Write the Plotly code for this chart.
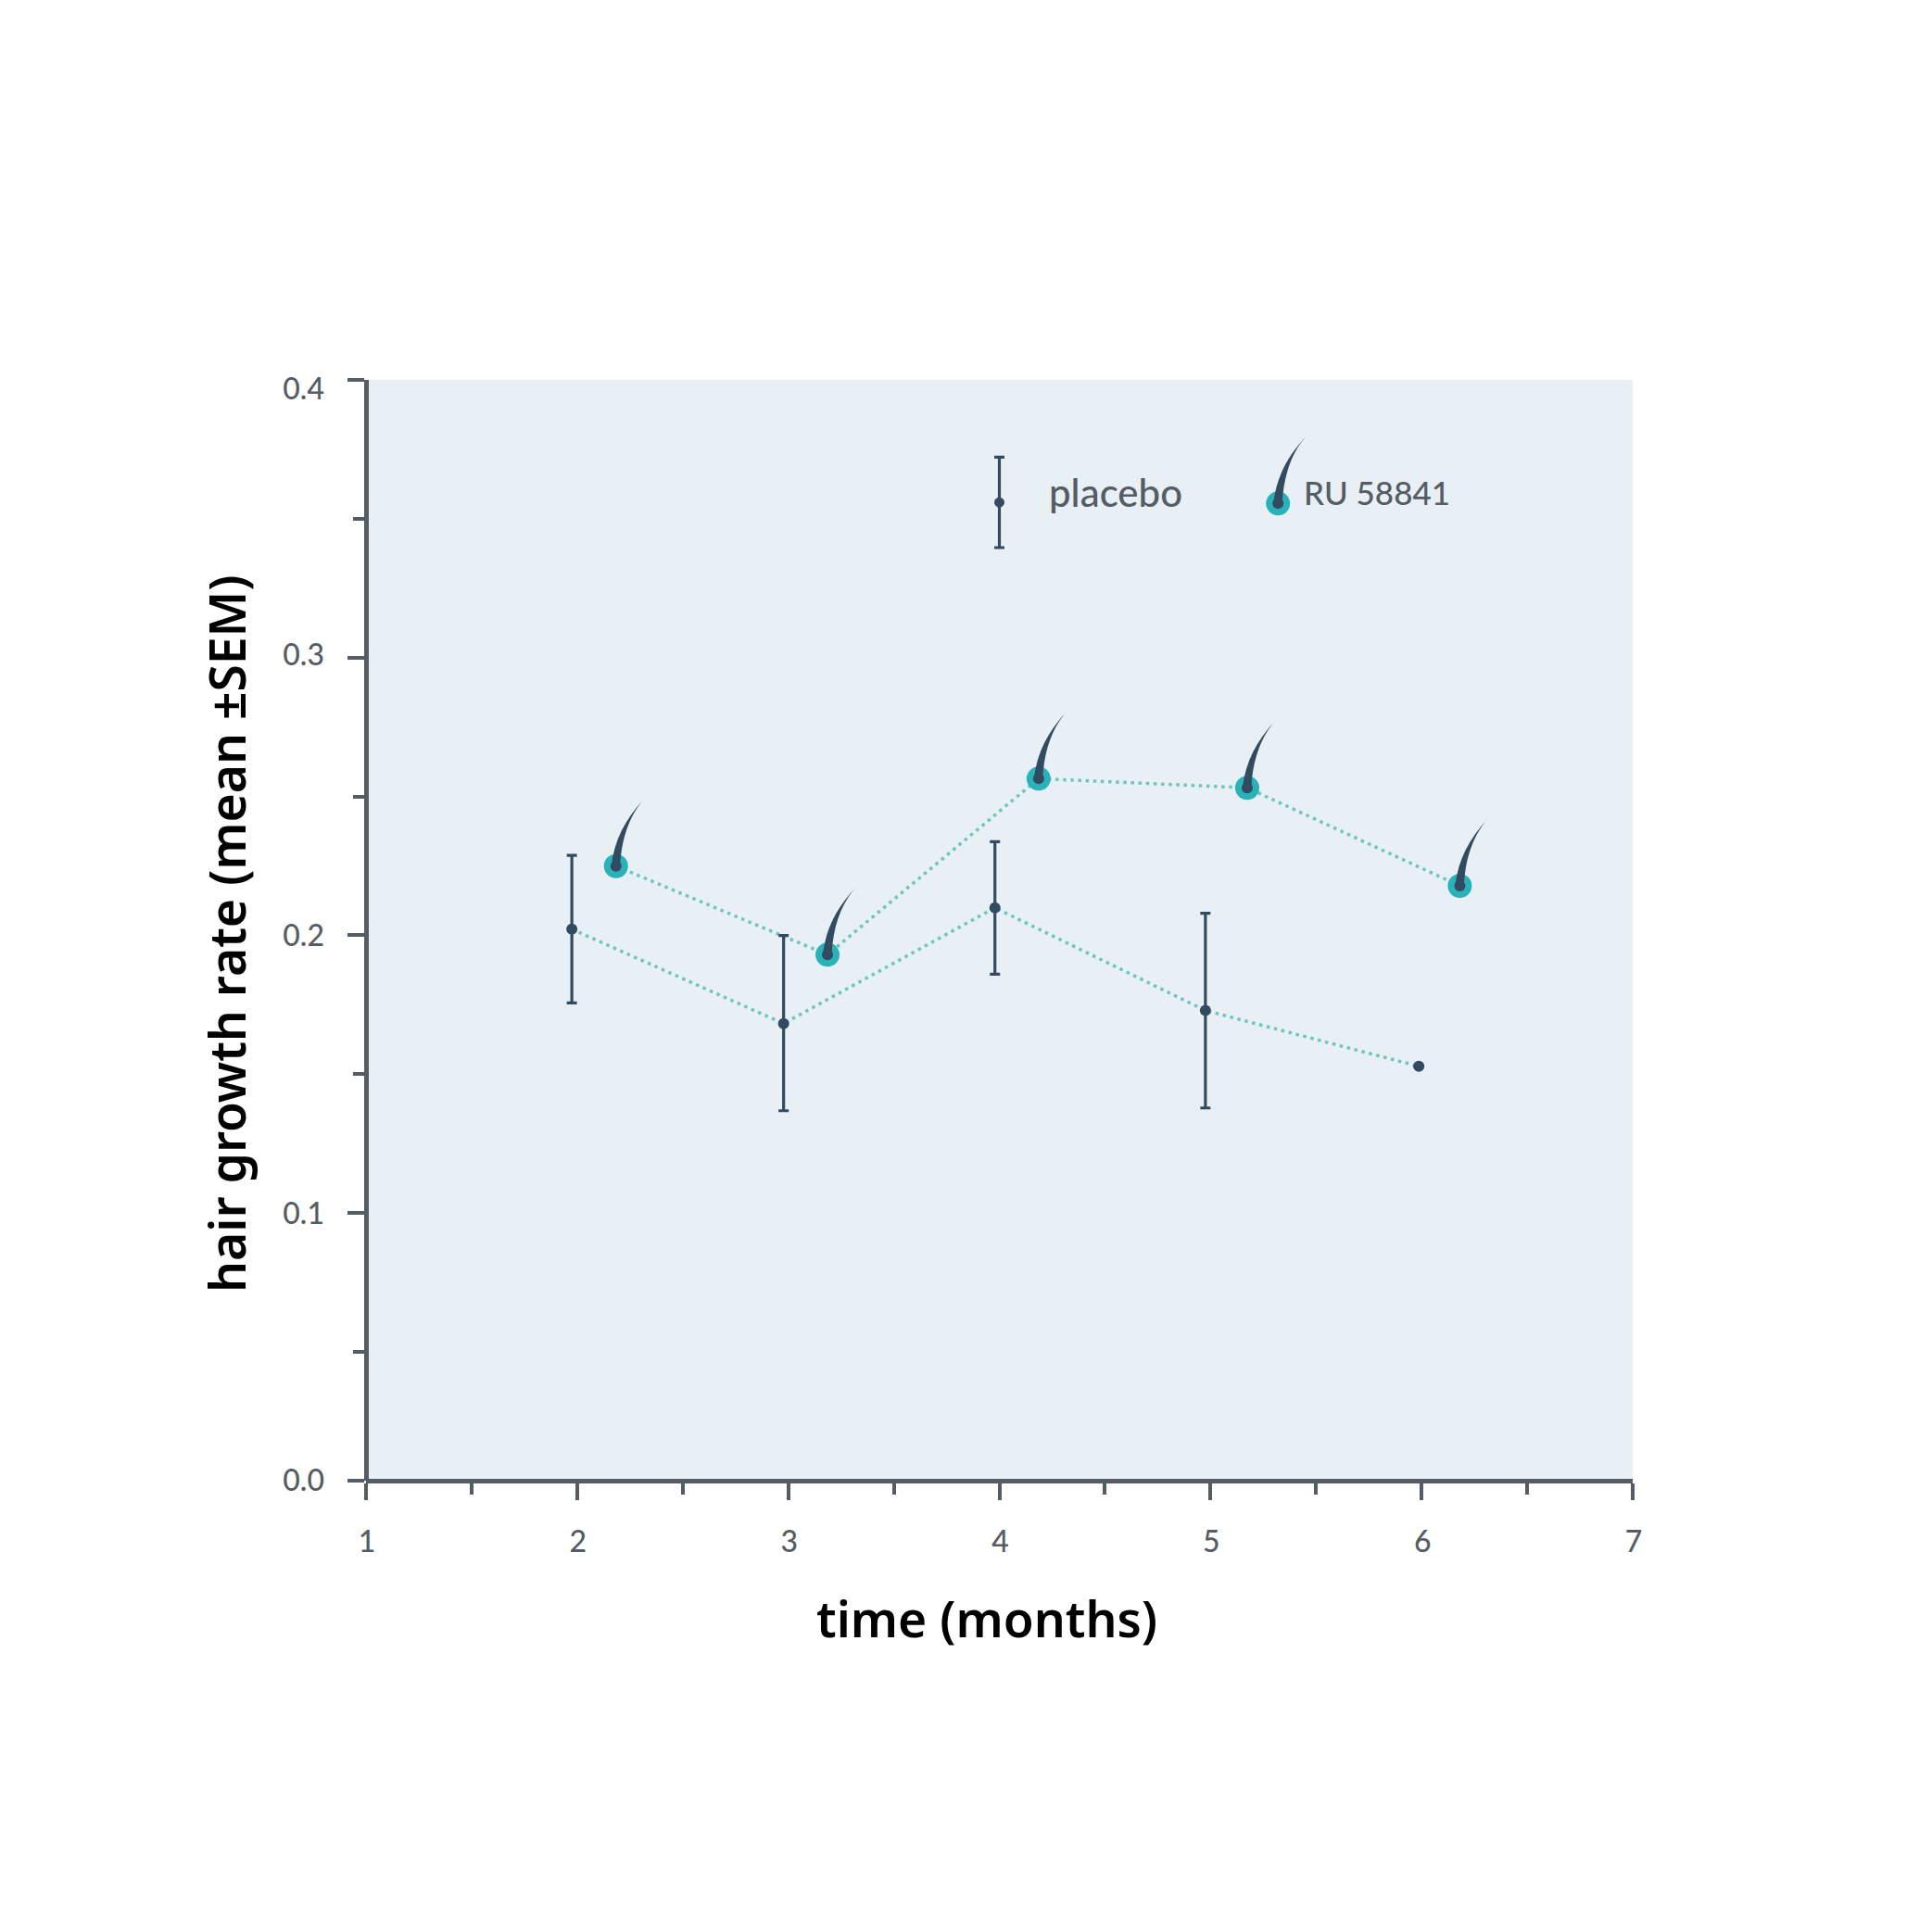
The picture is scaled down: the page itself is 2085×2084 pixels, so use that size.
import plotly.graph_objects as go

# values
placebo_x = [1.975, 2.978, 3.979, 4.976, 5.987]
placebo_y = [0.2022, 0.1682, 0.2099, 0.1729, 0.1528]
placebo_up = [0.0266, 0.0317, 0.0238, 0.0350, 0]
placebo_down = [0.0266, 0.0314, 0.0239, 0.0351, 0]

ru_x = [2.184, 3.186, 4.186, 5.174, 6.181]
ru_y = [0.2249, 0.1930, 0.2564, 0.2531, 0.2178]

# hand drawn key inside the panel
key_placebo_x = [4.0]
key_placebo_y = [0.3559]
key_placebo_err = [0.0163]
key_ru_x = [5.32]
key_ru_y = [0.3555]

x_ticks = [1, 2, 3, 4, 5, 6, 7]
x_minor = [1.5, 2.5, 3.5, 4.5, 5.5, 6.5]
# the 0.0 tick sits a bit higher than a linear scale would put it
y_bottom = 0.00357
y_ticks = [y_bottom, 0.1, 0.2, 0.3, 0.4]
y_labels = ['0.0', '0.1', '0.2', '0.3', '0.4']
# the labels are not quite level with their ticks in the original
y_label_pos = [y_bottom, 0.0996, 0.2, 0.3009, 0.3968]
y_minor = [0.05, 0.15, 0.25, 0.35]

W, H = 2085, 2084
PAGE = 8  # body margin of the written page
DARK = '#324b61'
TEAL = '#29b2b8'
DOTS = '#6fc5bd'
AXIS = '#555c64'
GREY_TEXT = '#555c64'
PANEL = '#e8f0f6'
TICK_FONT = dict(family='Lato', size=32, color=GREY_TEXT, weight=500)

HAIR = 'M -5,0 C -2,28 10,51 31,73 C 16,57 6,32 4.5,0 Z'


def hair(x, y):
    return dict(type='path', path=HAIR, xref='x', yref='y',
                xsizemode='pixel', ysizemode='pixel', xanchor=x, yanchor=y,
                fillcolor=DARK, line=dict(width=0), layer='above')


fig = go.Figure()

# dotted lines
fig.add_trace(go.Scatter(x=placebo_x, y=placebo_y, mode='lines',
                         line=dict(color=DOTS, width=3.5, dash='3.5px,4.65px')))
fig.add_trace(go.Scatter(x=ru_x, y=ru_y, mode='lines',
                         line=dict(color=DOTS, width=3.5, dash='3.5px,4.65px')))

# placebo, points with SEM
fig.add_trace(go.Scatter(x=placebo_x, y=placebo_y, mode='markers',
                         marker=dict(color=DARK, size=12),
                         error_y=dict(type='data', symmetric=False,
                                      array=placebo_up, arrayminus=placebo_down,
                                      color=DARK, thickness=3.2, width=5.5)))

# RU 58841, teal dot and dark root
fig.add_trace(go.Scatter(x=ru_x, y=ru_y, mode='markers',
                         marker=dict(color=TEAL, size=26)))
fig.add_trace(go.Scatter(x=ru_x, y=ru_y, mode='markers',
                         marker=dict(color=DARK, size=12)))

# key
fig.add_trace(go.Scatter(x=key_placebo_x, y=key_placebo_y, mode='markers',
                         marker=dict(color=DARK, size=11),
                         error_y=dict(type='data', array=key_placebo_err,
                                      color=DARK, thickness=3.2, width=5.5)))
fig.add_trace(go.Scatter(x=key_ru_x, y=key_ru_y, mode='markers',
                         marker=dict(color=TEAL, size=26)))
fig.add_trace(go.Scatter(x=key_ru_x, y=key_ru_y, mode='markers',
                         marker=dict(color=DARK, size=12)))

# empty trace so the label axis gets drawn
fig.add_trace(go.Scatter(x=[None], y=[None], yaxis='y2', hoverinfo='skip'))

shapes = [hair(x, y) for x, y in zip(ru_x + key_ru_x, ru_y + key_ru_y)]

annotations = [
    dict(text='placebo', x=4.225, y=0.3595, xref='x', yref='y', xanchor='left',
         yanchor='middle', showarrow=False,
         font=dict(family='Lato', size=42, color=GREY_TEXT, weight=500)),
    dict(text='RU 58841', x=5.433, y=0.3595, xref='x', yref='y', xanchor='left',
         yanchor='middle', showarrow=False,
         font=dict(family='Lato', size=35, color=GREY_TEXT, weight=500)),
    dict(text='time (months)', x=1065, y=1746, xref='paper', yref='paper',
         xanchor='center', yanchor='middle', showarrow=False,
         font=dict(family='Noto Sans', size=53.4, color='#000000', weight=600)),
    dict(text='hair growth rate (mean ±SEM)', x=244, y=1008, xref='paper',
         yref='paper', xanchor='center', yanchor='middle', showarrow=False, textangle=-90,
         font=dict(family='Noto Sans', size=53.4, color='#000000', weight=600)),
]
# plot area in page pixels, titles above are placed against it
plot_l, plot_r, plot_t, plot_b = 395, 1762, 410, 1598
for a in annotations:
    if a['xref'] == 'paper':
        a['x'] = (a['x'] - plot_l) / (plot_r - plot_l)
        a['y'] = (a['y'] - plot_b) / (plot_t - plot_b)

fig.update_layout(
    width=W, height=H,
    margin=dict(l=plot_l - PAGE, r=W - plot_r + PAGE, t=plot_t - PAGE, b=H - plot_b + PAGE, pad=0),
    paper_bgcolor='#ffffff',
    plot_bgcolor=PANEL,
    showlegend=False,
    shapes=shapes,
    annotations=annotations,
    xaxis=dict(range=[1, 7], tickmode='array', tickvals=x_ticks,
               showgrid=False, zeroline=False, showline=True, linecolor=AXIS, linewidth=4.5,
               anchor='free', position=0,
               ticks='outside', ticklen=18, tickwidth=4, tickcolor=AXIS,
               tickfont=TICK_FONT, ticklabelstandoff=18, ticklabelshift=1,
               minor=dict(tickmode='array', tickvals=x_minor, ticks='outside',
                          ticklen=12, tickwidth=4, tickcolor=AXIS, showgrid=False)),
    yaxis=dict(range=[y_bottom, 0.4], tickmode='array', tickvals=y_ticks, showticklabels=False,
               showgrid=False, zeroline=False, showline=True, linecolor=AXIS, linewidth=4.5,
               anchor='free', position=0,
               ticks='outside', ticklen=18, tickwidth=4, tickcolor=AXIS,
               minor=dict(tickmode='array', tickvals=y_minor, ticks='outside',
                          ticklen=12, tickwidth=4, tickcolor=AXIS, showgrid=False)),
    yaxis2=dict(range=[y_bottom, 0.4], overlaying='y', side='left', tickmode='array',
                tickvals=y_label_pos, ticktext=y_labels,
                showgrid=False, zeroline=False, showline=False, ticks='',
                anchor='free', position=0,
                tickfont=TICK_FONT, ticklabelstandoff=45),
)

fig.write_html('out.html')
